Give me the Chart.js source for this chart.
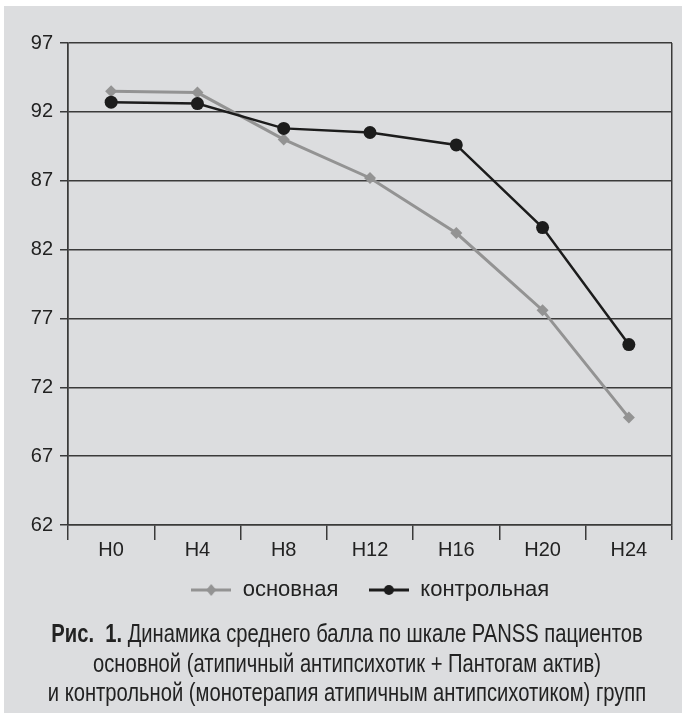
<!DOCTYPE html>
<html>
<head>
<meta charset="utf-8">
<script src="https://cdn.jsdelivr.net/npm/chart.js@4.4.1/dist/chart.umd.min.js"></script>
<style>
  body { margin: 0; width: 682px; height: 716px; background: #fff; position: relative; overflow: hidden; }
  #fon { position: absolute; left: 4px; top: 6px; width: 678px; height: 707px; background: #dcdddf; }
  #wrap { position: absolute; left: 0; top: 0; width: 682px; height: 650px; }
  #podpis { position: absolute; left: -92px; top: 619px; width: 878px; text-align: center; white-space: nowrap;
            font-family: "Liberation Sans", sans-serif; font-size: 26px;
            line-height: 29.5px; color: #222; transform: scaleX(0.776); transform-origin: 50% 0; }
  #podpis b { font-weight: bold; }
</style>
</head>
<body>
<div id="fon"></div>
<div id="wrap"><canvas id="grafica" width="682" height="650"></canvas></div>
<div id="podpis">
  <b>Рис.&nbsp; 1.</b> Динамика среднего балла по шкале PANSS пациентов<br>
  основной (атипичный антипсихотик + Пантогам актив)<br>
  и контрольной (монотерапия атипичным антипсихотиком) групп
</div>
<script>
var etapy = ["Н0", "Н4", "Н8", "Н12", "Н16", "Н20", "Н24"];
var osnovnaya = [93.5, 93.4, 90.0, 87.2, 83.2, 77.6, 69.8];
var kontrolnaya = [92.7, 92.6, 90.8, 90.5, 89.6, 83.6, 75.1];
var yTicks = [62, 67, 72, 77, 82, 87, 92, 97];

var temnyi = "#3a3a3a";
var seryi = "#939393";
var chernyi = "#1c1c1c";

// значок для легенды: линия с маркером посередине
function znachok(color, style) {
    var c = document.createElement("canvas");
    c.width = 40;
    c.height = 14;
    var g = c.getContext("2d");
    g.strokeStyle = color;
    g.fillStyle = color;
    g.lineWidth = 3;
    g.beginPath();
    g.moveTo(0, 7);
    g.lineTo(40, 7);
    g.stroke();
    g.beginPath();
    if (style === "rectRot") {
        g.moveTo(20, 1); g.lineTo(25, 7); g.lineTo(20, 13); g.lineTo(15, 7);
    } else {
        g.arc(20, 7, 5, 0, Math.PI * 2);
    }
    g.closePath();
    g.fill();
    return c;
}

// ставим легенду на своё место под осью
var sdvigLegendy = {
    id: "sdvigLegendy",
    afterLayout: function(chart) {
        var l = chart.legend;
        var h = l.bottom - l.top;
        l.left = 68;
        l.right = 672;
        l.top = 549;
        l.bottom = 549 + h;
    }
};

Chart.defaults.font.family = "'Liberation Sans', Arial, sans-serif";
Chart.defaults.color = "#222";

var ctx = document.getElementById("grafica").getContext("2d");
var grafica = new Chart(ctx, {
    type: "line",
    data: {
        labels: etapy,
        datasets: [
            {
                label: "основная",
                data: osnovnaya,
                borderColor: seryi,
                backgroundColor: seryi,
                borderWidth: 3,
                pointStyle: "rectRot",
                pointRadius: 6,
                pointBorderWidth: 0,
                fill: false,
                order: 1
            },
            {
                label: "контрольная",
                data: kontrolnaya,
                borderColor: chernyi,
                backgroundColor: chernyi,
                borderWidth: 2.5,
                pointStyle: "circle",
                pointRadius: 6.5,
                pointBorderWidth: 0,
                fill: false,
                order: 0
            }
        ]
    },
    plugins: [sdvigLegendy],
    options: {
        responsive: false,
        animation: false,
        layout: { padding: { left: 0, right: 10, top: 43, bottom: 23 } },
        plugins: {
            tooltip: { enabled: false },
            legend: {
                position: "bottom",
                labels: {
                    usePointStyle: true,
                    pointStyleWidth: 41,
                    padding: 30,
                    font: { size: 22 },
                    color: "#222",
                    generateLabels: function(chart) {
                        return chart.data.datasets.map(function(ds, i) {
                            return {
                                text: ds.label,
                                pointStyle: znachok(ds.borderColor, ds.pointStyle),
                                fillStyle: ds.borderColor,
                                strokeStyle: ds.borderColor,
                                lineWidth: 0,
                                fontColor: "#222",
                                hidden: false,
                                datasetIndex: i
                            };
                        });
                    }
                }
            }
        },
        scales: {
            x: {
                offset: true,
                afterFit: function(s) { s.height = 40; },
                grid: {
                    offset: true,
                    drawOnChartArea: true,
                    color: function(c) {
                        return (c.index === 0 || c.index === undefined) ? temnyi : "rgba(0,0,0,0)";
                    },
                    tickColor: temnyi,
                    tickLength: 15,
                    lineWidth: 1.5
                },
                border: { color: temnyi, width: 1.5 },
                ticks: { font: { size: 20 }, padding: -2, maxRotation: 0 }
            },
            y: {
                min: 62,
                max: 97,
                afterFit: function(s) { s.width = 68; },
                afterBuildTicks: function(s) {
                    s.ticks = yTicks.map(function(v) { return { value: v }; });
                },
                grid: { color: temnyi, tickColor: temnyi, tickLength: 8, lineWidth: 1.5 },
                border: { color: temnyi, width: 1.5 },
                ticks: { font: { size: 20 }, padding: 7 }
            }
        }
    }
});
</script>
</body>
</html>
